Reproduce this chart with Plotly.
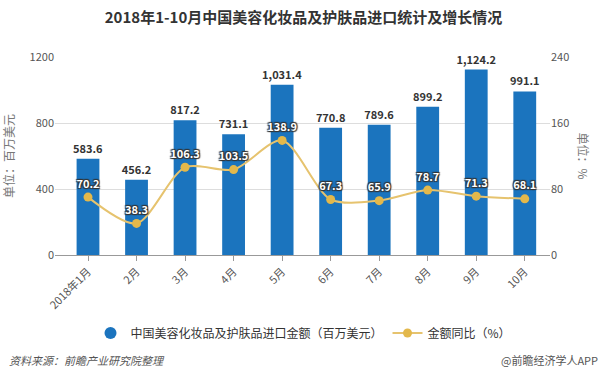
import plotly.graph_objects as go

months = ["2018年1月", "2月", "3月", "4月", "5月", "6月", "7月", "8月", "9月", "10月"]
import_value = [583.6, 456.2, 817.2, 731.1, 1031.4, 770.8, 789.6, 899.2, 1124.2, 991.1]
yoy_growth = [70.2, 38.3, 106.3, 103.5, 138.9, 67.3, 65.9, 78.7, 71.3, 68.1]
bar_name = "中国美容化妆品及护肤品进口金额（百万美元）"
line_name = "金额同比（%）"

FONT = "Noto Sans CJK SC, Microsoft YaHei, sans-serif"
BAR_COLOR = "#1B74BE"
LINE_COLOR = "#E3B84B"

fig = go.Figure()

fig.add_trace(go.Bar(
    x=months, y=import_value, name=bar_name, showlegend=False,
    marker=dict(color=BAR_COLOR, line=dict(width=0)), width=0.47,
    text=[f"{v:,.1f}" for v in import_value], textposition="outside",
    constraintext="none",
    textfont=dict(family=FONT, size=11, color="#333333", weight="bold"),
    cliponaxis=False, hoverinfo="skip",
))
# legend proxy for bars (circle icon)
fig.add_trace(go.Scatter(
    x=[None], y=[None], mode="markers", name=bar_name,
    marker=dict(color=BAR_COLOR, size=12, symbol="circle"),
))
fig.add_trace(go.Scatter(
    x=months, y=yoy_growth, name=line_name, yaxis="y2",
    mode="lines+markers+text",
    line=dict(color="#E6C36E", width=2, shape="spline", smoothing=0.8),
    marker=dict(color=LINE_COLOR, size=9),
    text=[f"{v:.1f}" for v in yoy_growth], textposition="top center",
    textfont=dict(family=FONT, size=11, color="#ffffff", weight="bold",
                  shadow="1px 1px 1px #333, -1px -1px 1px #333, 1px -1px 1px #333, -1px 1px 1px #333"),
    cliponaxis=False,
))

fig.update_layout(
    width=607, height=387,
    margin=dict(l=55, r=57, t=57, b=132, autoexpand=False),
    paper_bgcolor="white", plot_bgcolor="white",
    font=dict(family=FONT, size=11, color="#555555"),
    title=dict(text="<b>2018年1-10月中国美容化妆品及护肤品进口统计及增长情况</b>",
               x=0.5, xanchor="center", y=1 - 18 / 387, yanchor="middle",
               font=dict(family=FONT, size=15, color="#333333")),
    xaxis=dict(
        type="category", range=[-0.68, 9.52], automargin=False,
        showline=True, linecolor="#999999", linewidth=1,
        ticks="outside", ticklen=5, tickcolor="#999999",
        tickangle=-45, tickfont=dict(size=11, color="#555555"),
        showgrid=False, zeroline=False,
    ),
    yaxis=dict(
        range=[0, 1200], dtick=400, showgrid=True, gridcolor="#dddddd",
        zeroline=False, showline=False, ticks="", automargin=False,
        tickfont=dict(size=11, color="#555555"),
        title=dict(text="单位：百万美元", standoff=12, font=dict(size=12, color="#777777")),
    ),
    yaxis2=dict(
        range=[0, 240], dtick=80, overlaying="y", side="right", automargin=False,
        showgrid=False, zeroline=False, showline=False, ticks="",
        tickfont=dict(size=11, color="#555555"),
    ),
    legend=dict(orientation="h", x=0.5, xanchor="center", xref="container",
                y=1 - 333 / 387, yanchor="middle", yref="container",
                font=dict(size=12, color="#333333"),
                bgcolor="rgba(0,0,0,0)"),
    showlegend=True,
)

fig.add_annotation(text="单位：%", xref="paper", yref="paper", x=1.0, xshift=44,
                   y=0.5, textangle=90, showarrow=False,
                   font=dict(size=12, color="#777777"))
fig.add_annotation(text="<i>资料来源：前瞻产业研究院整理</i>", xref="paper", yref="paper",
                   x=0, xshift=-48, xanchor="left", y=(255 - 360) / 198, yanchor="middle",
                   showarrow=False, font=dict(size=11, color="#555555"))
fig.add_annotation(text="@前瞻经济学人APP", xref="paper", yref="paper",
                   x=1, xshift=50, xanchor="right", y=(255 - 360) / 198, yanchor="middle",
                   showarrow=False, font=dict(size=11, color="#555555"))

fig.write_html("out.html", config={"displayModeBar": False},
               post_script="document.body.style.margin='0';document.body.style.overflow='hidden';")
